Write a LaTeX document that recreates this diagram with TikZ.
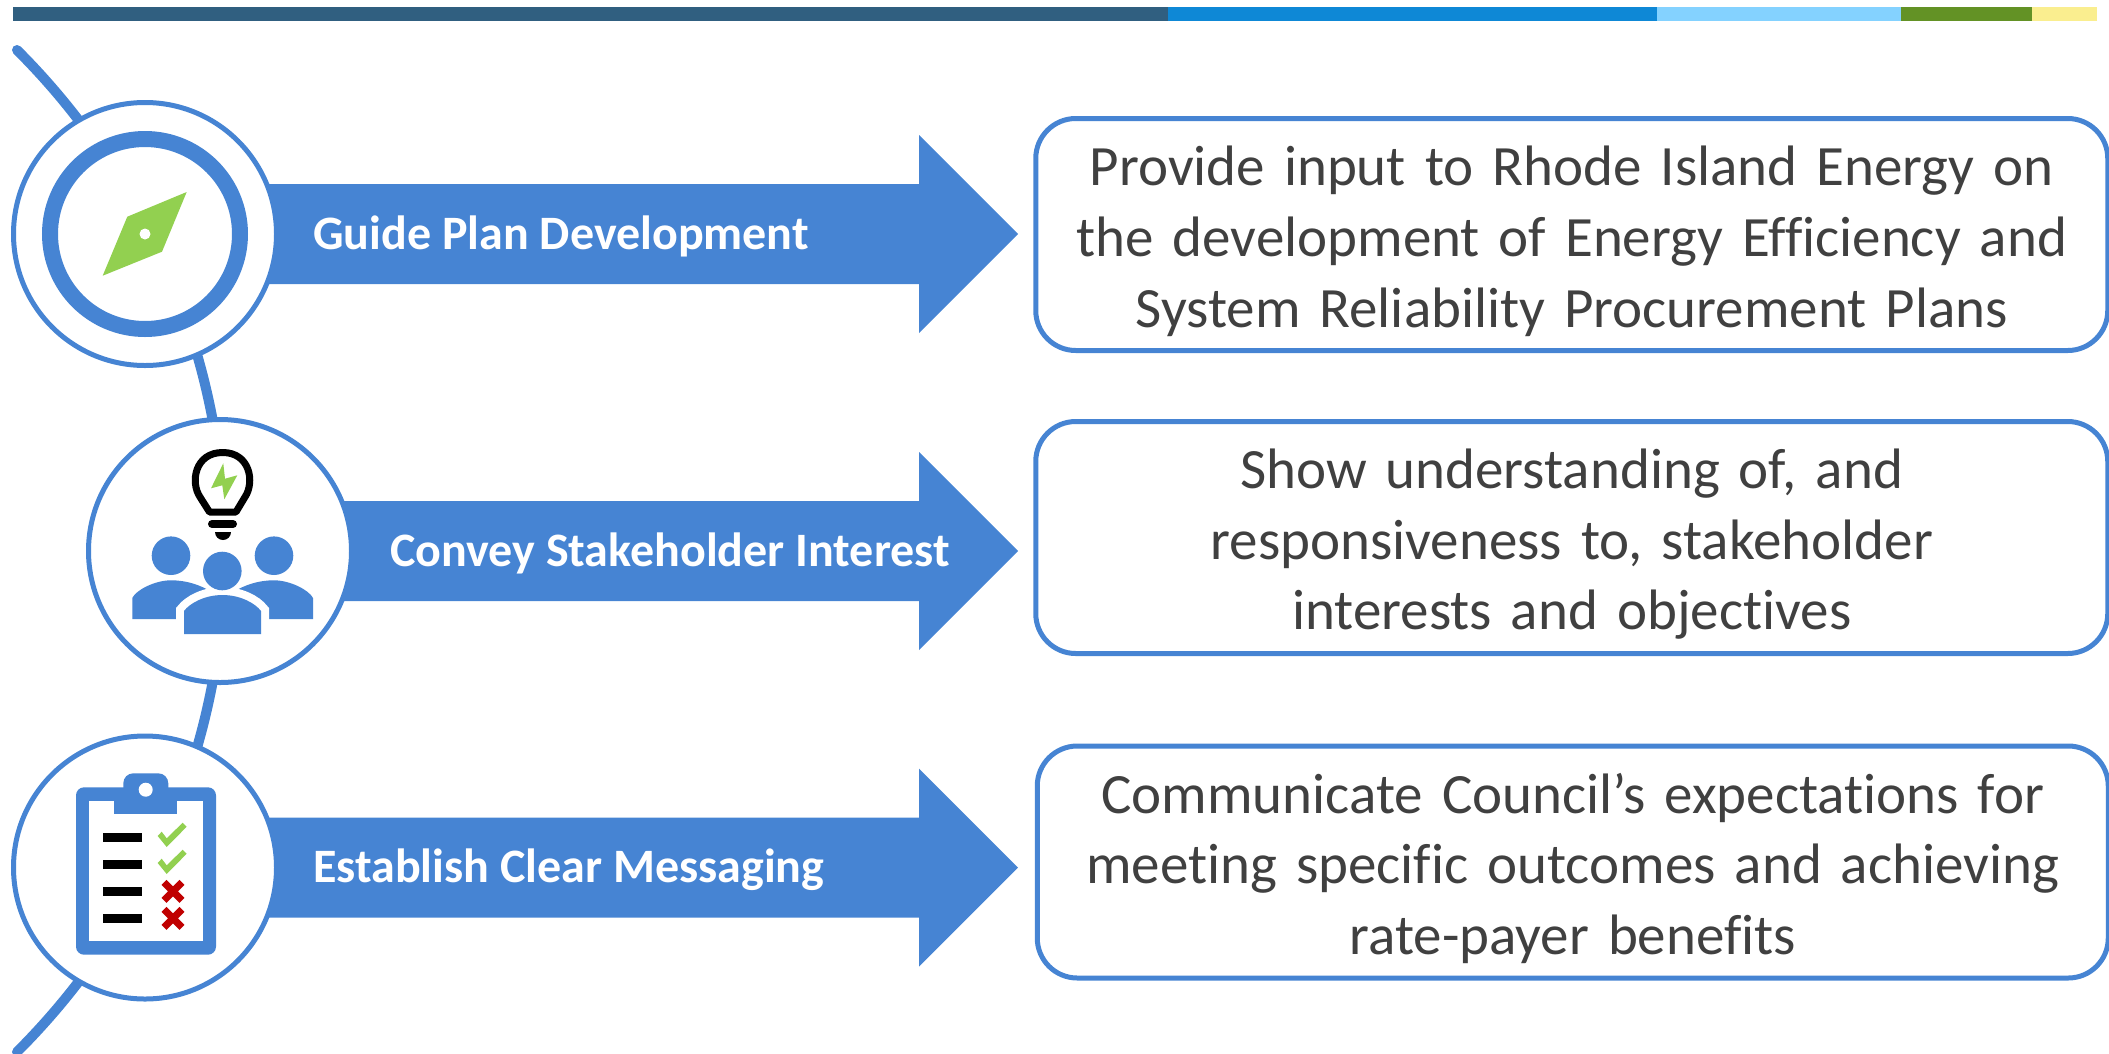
\documentclass[tikz,border=0pt]{standalone}
\usepackage{fontspec}
\setmainfont{Carlito}[Ligatures=NoCommon,WordSpace=0.72,BoldFeatures={WordSpace=1}]
\usetikzlibrary{positioning,calc}
\definecolor{hubblue}{HTML}{4684D3}
\definecolor{leafgreen}{HTML}{92D050}
\definecolor{crossred}{HTML}{C00000}
\definecolor{bodygray}{HTML}{404040}
\definecolor{stripa}{RGB}{48,95,128}
\definecolor{stripb}{RGB}{14,136,214}
\definecolor{stripc}{RGB}{132,210,255}
\definecolor{stripd}{RGB}{99,146,37}
\definecolor{stripe}{RGB}{250,238,143}
\tikzset{
    hub/.style={circle,draw=hubblue,line width=5pt,fill=white,minimum size=263pt,inner sep=0pt},
    pointer/.style={fill=hubblue},
    pointertext/.style={text=white,font=\fontsize{48}{56}\selectfont\bfseries,inner sep=0pt},
    goalbox/.style={draw=hubblue,line width=5pt,fill=white,rounded corners=40pt,minimum width=1072pt,minimum height=232pt,
        inner sep=0pt,text width=1060pt,align=center,text=bodygray,font=\fontsize{57}{70.6}\selectfont,
        execute at begin node={\rule{0pt}{53pt}}},
}
\begin{document}
\begin{tikzpicture}[x=1pt,y=-1pt]
    \useasboundingbox (0,0) rectangle (2109,1053);
    % strip along the top
    \fill[stripa] (13,7) rectangle (1168,21);
    \fill[stripb] (1168,7) rectangle (1657,21);
    \fill[stripc] (1657,7) rectangle (1901,21);
    \fill[stripd] (1901,7) rectangle (2032,21);
    \fill[stripe] (2032,7) rectangle (2097,21);

    % big arc behind the circles
    \draw[hubblue,line width=10pt,line cap=round] (17,50) arc[start angle=-45.08,end angle=45.08,radius=707.5];

    % arrows
    \foreach \yc in {234,551,867.5} {
        \fill[pointer] (145,\yc-50) -- (919,\yc-50) -- (919,\yc-99) -- (1018,\yc) -- (919,\yc+99) -- (919,\yc+50) -- (145,\yc+50) -- cycle;
    }

    \node[hub] (guide) at (145,234) {};
    \node[hub] (convey) at (220,551) {};
    \node[hub] (establish) at (145,867.5) {};

    \node[pointertext,anchor=west] (guidetext) at (313,236) {Guide Plan Development};
    \node[pointertext,anchor=west] (conveytext) at (390,553) {Convey Stakeholder Interest};
    \node[pointertext,anchor=west] (establishtext) at (313,870) {Establish Clear Messaging};

    \node[goalbox] (goala) at (1571.75,234.5) {Provide input to Rhode Island Energy on\\the development of Energy Efficiency and\\System Reliability Procurement Plans};
    \node[goalbox] (goalb) at (1571.75,537.5) {Show understanding of, and\\responsiveness to, stakeholder\\interests and objectives};
    \node[goalbox,minimum width=1071pt] (goalc) at (1572.75,862) {Communicate Council’s expectations for\\meeting specific outcomes and achieving\\rate-payer benefits};

    % compass
    \draw[hubblue,line width=16pt] (guide.center) circle[radius=95];
    \fill[leafgreen] (186.7,192) -- (127.3,216.7) -- (102.7,275.7) -- (162,251.7) -- cycle;
    \fill[white] (guide.center) circle[radius=5.5];

    % bulb
    \draw[black,line width=7pt,line join=round] (209.5,512) -- (200,497) .. controls (190,482) and (195,452.5) .. (222.7,452.5)
        .. controls (250,452.5) and (255,482) .. (245,497) -- (236,512) -- cycle;
    \fill[leafgreen] (223.3,463.3) -- (211,488.3) -- (222.3,485.3) -- (224.3,499.3) -- (237.3,475.3) -- (225,478.7) -- cycle;
    \draw[black,line width=8pt,line cap=round] (212,524) -- (233,524);
    \fill[black] (215,532) -- (231,532) arc[start angle=0,end angle=180,radius=8];

    % people
    \fill[hubblue] (171,555.7) circle[radius=19.3];
    \fill[hubblue] (274,555.7) circle[radius=19.3];
    \fill[hubblue] (132.3,619) -- (132.3,598) .. controls (136,590) and (155,580.3) .. (171,580.3) .. controls (187,580.3) and (200,585) .. (212,592) -- (212,619) -- cycle;
    \fill[hubblue] (313,619) -- (313,598) .. controls (309,590) and (290,580.3) .. (274,580.3) .. controls (258,580.3) and (245,585) .. (233,592) -- (233,619) -- cycle;
    \draw[white,line width=16pt,fill=hubblue] (184,634) -- (184,611) .. controls (190,603) and (205,595) .. (222.5,595) .. controls (240,595) and (255,603) .. (261,611) -- (261,634) -- cycle;
    \fill[white] (175.7,619) rectangle (269.3,640);
    \fill[hubblue] (184,634) -- (184,611) .. controls (190,603) and (205,595) .. (222.5,595) .. controls (240,595) and (255,603) .. (261,611) -- (261,634) -- cycle;
    \fill[hubblue] (222.3,571) circle[radius=19.3];

    % clipboard
    \fill[hubblue,rounded corners=8pt] (76,787.3) rectangle (216,954.7);
    \fill[white] (89,800.7) rectangle (202.7,941.3);
    \fill[hubblue] (114.3,790) rectangle (177.3,814.3);
    \fill[hubblue,rounded corners=10pt] (123.3,800) -- (123.3,773.3) -- (168.3,773.3) -- (168.3,800) -- cycle;
    \fill[white] (145.7,789.7) circle[radius=7];
    \foreach \yl in {833,860,887,914} {
        \fill[black] (103,\yl) rectangle (142,\yl+9);
    }
    \foreach \yl in {0,27} {
        \fill[leafgreen] (157.7,836+\yl) -- (166.7,847+\yl) -- (186.7,826.7+\yl) -- (182.7,822.7+\yl) -- (166.7,838.3+\yl) -- (161.7,831.7+\yl) -- cycle;
    }
    \foreach \yl in {891.3,918.3} {
        \draw[crossred,line width=7pt] (164,\yl-9) -- (182,\yl+9) (164,\yl+9) -- (182,\yl-9);
    }
\end{tikzpicture}
\end{document}
